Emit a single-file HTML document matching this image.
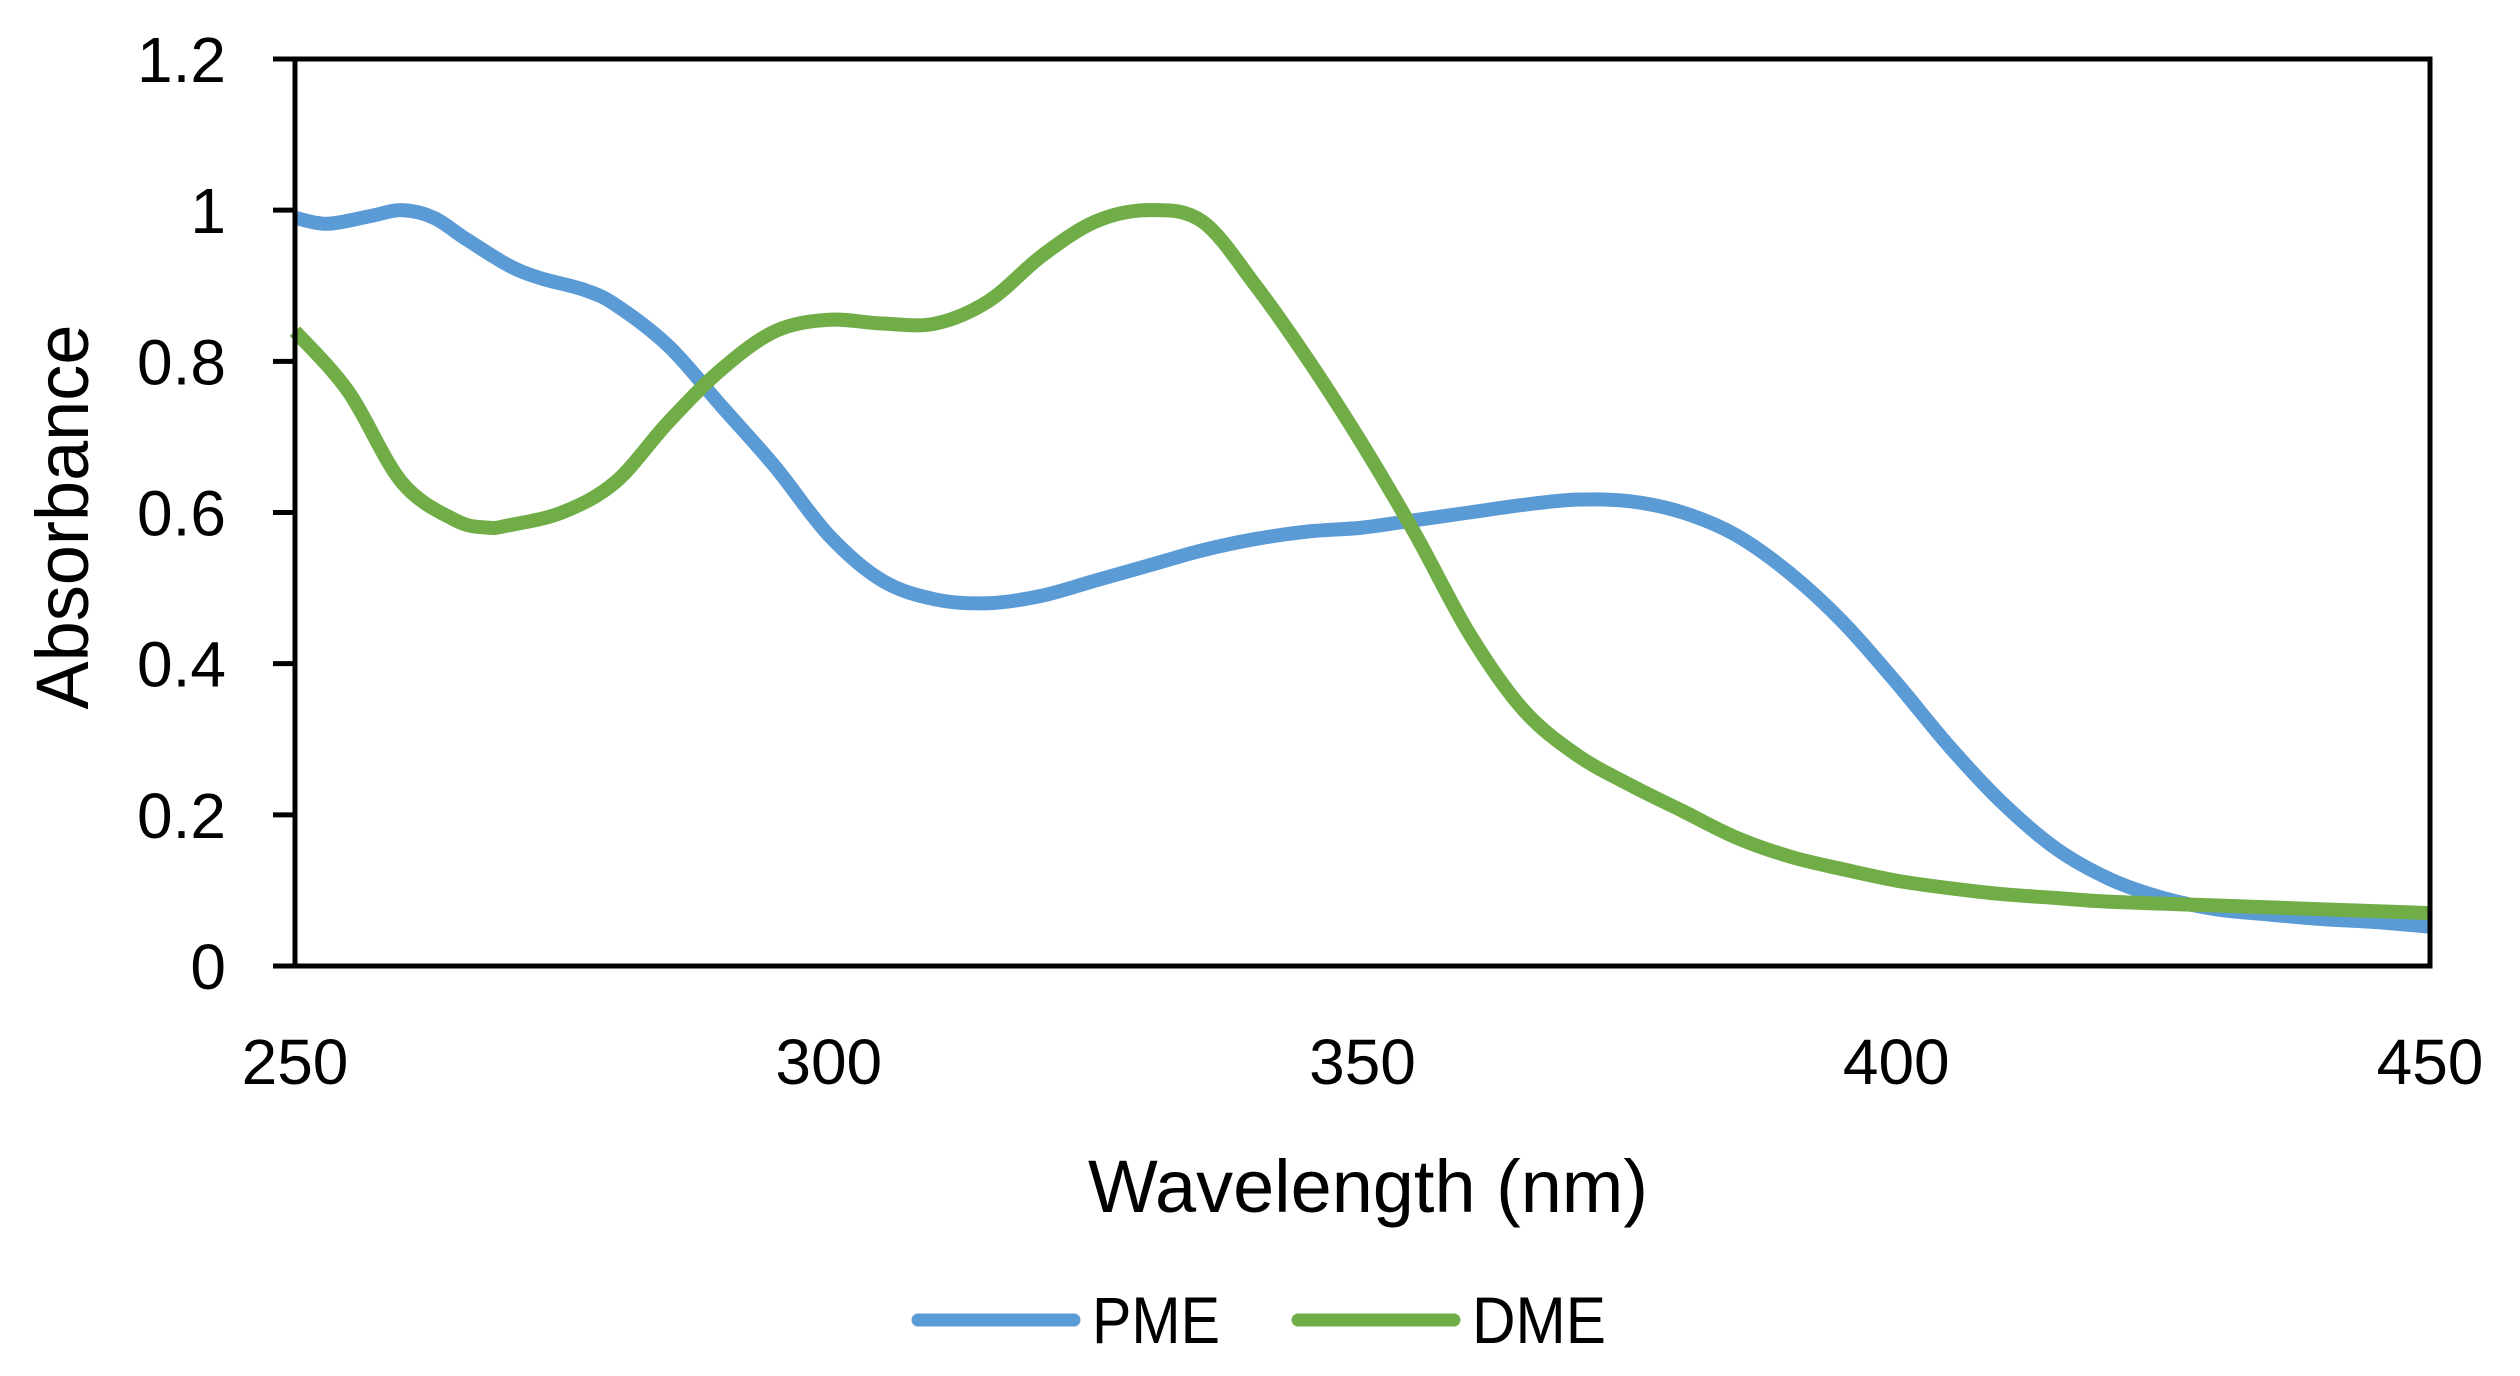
<!DOCTYPE html>
<html><head><meta charset="utf-8"><style>
html,body{margin:0;padding:0;background:#fff;}
svg{display:block;}
text{font-family:"Liberation Sans",sans-serif;fill:#000;}
</style></head><body>
<svg id="chart" width="2520" height="1376" viewBox="0 0 2520 1376" xmlns="http://www.w3.org/2000/svg">
<rect x="0" y="0" width="2520" height="1376" fill="#fff"/>
<g id="plot"></g>
<g id="axes"></g>
<text x="1368" y="1212" font-size="74" text-anchor="middle" textLength="560" lengthAdjust="spacingAndGlyphs">Wavelength (nm)</text>
<text transform="translate(88,517) rotate(-90)" font-size="74" text-anchor="middle" textLength="385" lengthAdjust="spacingAndGlyphs">Absorbance</text>
<g>
  <g>
    <line x1="918" y1="1320" x2="1074" y2="1320" stroke="#5b9bd5" stroke-width="13" stroke-linecap="round"/>
    <text x="1092" y="1343" font-size="66" textLength="128" lengthAdjust="spacingAndGlyphs">PME</text>
  </g>
  <g>
    <line x1="1298" y1="1320" x2="1454" y2="1320" stroke="#70ad47" stroke-width="13" stroke-linecap="round"/>
    <text x="1472" y="1343" font-size="66" textLength="134" lengthAdjust="spacingAndGlyphs">DME</text>
  </g>
</g>
</svg>
<script>
const pmeX = [250,253,257,260,263,266,270,273,277,280,285,290,295,300,305,310,315,320,325,330,335,340,345,350,355,360,365,370,375,380,385,390,395,400,405,410,415,420,425,430,435,440,445,450];
const pmeY = [0.99,0.982,0.992,1.0,0.99,0.962,0.927,0.91,0.895,0.875,0.82,0.74,0.66,0.57,0.51,0.485,0.48,0.49,0.51,0.53,0.55,0.565,0.575,0.58,0.59,0.6,0.61,0.617,0.615,0.6,0.57,0.52,0.455,0.375,0.29,0.215,0.155,0.115,0.09,0.075,0.068,0.062,0.058,0.052];
const dmeX = [250,255,260,265,268,270,275,280,285,290,295,300,305,310,315,320,325,330,335,340,345,350,355,360,365,370,375,380,385,390,395,400,405,410,415,420,430,440,450];
const dmeY = [0.84,0.76,0.64,0.59,0.58,0.583,0.6,0.64,0.72,0.79,0.84,0.855,0.85,0.85,0.88,0.94,0.985,1.0,0.985,0.9,0.8,0.69,0.57,0.44,0.34,0.28,0.24,0.205,0.17,0.145,0.128,0.113,0.103,0.095,0.09,0.085,0.08,0.075,0.07];
const xTicks = [250,300,350,400,450];
const yTicks = [0,0.2,0.4,0.6,0.8,1,1.2];
const yTickLabels = ["0","0.2","0.4","0.6","0.8","1","1.2"];

const L=295,R=2430,T=59,B=966;
const xs = v => L + (v-250)/(450-250)*(R-L);
const ys = v => B - v/1.2*(B-T);
const NS="http://www.w3.org/2000/svg";
const plot=document.getElementById('plot'), axes=document.getElementById('axes');

function smoothPath(X,Y){
  const p=X.map((x,i)=>[xs(x),ys(Y[i])]);
  let d=`M${p[0][0]},${p[0][1]}`;
  for(let i=0;i<p.length-1;i++){
    const p0=p[i-1]||p[i],p1=p[i],p2=p[i+1],p3=p[i+2]||p2;
    const c1=[p1[0]+(p2[0]-p0[0])/6,p1[1]+(p2[1]-p0[1])/6];
    const c2=[p2[0]-(p3[0]-p1[0])/6,p2[1]-(p3[1]-p1[1])/6];
    d+=` C${c1[0]},${c1[1]} ${c2[0]},${c2[1]} ${p2[0]},${p2[1]}`;
  }
  return d;
}
function series(X,Y,color,name){
  const path=document.createElementNS(NS,'path');
  path.setAttribute('d',smoothPath(X,Y));
  path.setAttribute('fill','none');
  path.setAttribute('stroke',color);
  path.setAttribute('stroke-width','14');
  path.setAttribute('stroke-linejoin','round');
  
  
  plot.appendChild(path);
}
series(pmeX,pmeY,'#5b9bd5','pme-line');
series(dmeX,dmeY,'#70ad47','dme-line');

const frame=document.createElementNS(NS,'rect');
frame.setAttribute('x',L);frame.setAttribute('y',T);
frame.setAttribute('width',R-L);frame.setAttribute('height',B-T);
frame.setAttribute('fill','none');frame.setAttribute('stroke','#000');frame.setAttribute('stroke-width','5');


axes.appendChild(frame);

yTicks.forEach((v,i)=>{
  const ln=document.createElementNS(NS,'line');
  ln.setAttribute('x1',L-22);ln.setAttribute('x2',L);
  ln.setAttribute('y1',ys(v));ln.setAttribute('y2',ys(v));
  ln.setAttribute('stroke','#000');ln.setAttribute('stroke-width','5');
  
  
  axes.appendChild(ln);
  const t=document.createElementNS(NS,'text');
  t.setAttribute('x',226);t.setAttribute('y',ys(v)+23);
  t.setAttribute('text-anchor','end');t.setAttribute('font-size','64');
  t.textContent=yTickLabels[i];
  
  
  axes.appendChild(t);
});
xTicks.forEach(v=>{
  const t=document.createElementNS(NS,'text');
  t.setAttribute('x',xs(v));t.setAttribute('y',1084);
  t.setAttribute('text-anchor','middle');t.setAttribute('font-size','64');
  t.textContent=String(v);
  
  
  axes.appendChild(t);
});
</script>
</body></html>
